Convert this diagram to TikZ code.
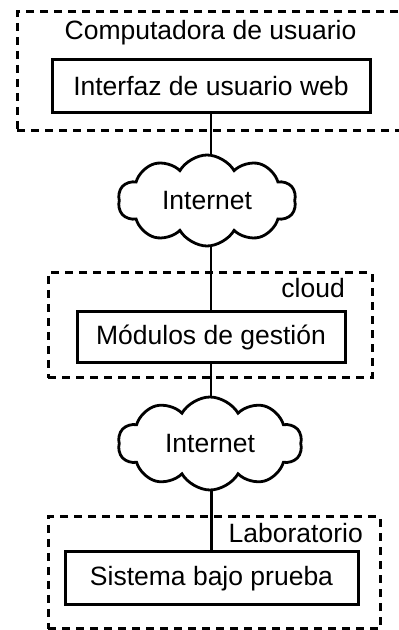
\documentclass[tikz,border=0pt]{standalone}
\usepackage{fontspec}
\setmainfont{Liberation Sans}
\usetikzlibrary{shapes.symbols,backgrounds}

\begin{document}
\begin{tikzpicture}[
  x=1pt, y=1pt,
  font=\fontsize{26.5}{30}\selectfont,
  frame/.style={draw, line width=3pt, dash pattern=on 8pt off 6pt, inner sep=0pt},
  block/.style={draw, line width=3pt, fill=white, inner sep=0pt},
  net/.style={cloud, cloud puffs=10, cloud puff arc=120, cloud ignores aspect, draw, line width=2.8pt, fill=white, inner sep=0pt},
  tag/.style={inner sep=0pt},
  link/.style={line width=2.6pt}
]
\useasboundingbox (0,0) rectangle (399,630);

% dashed frames
\node[frame, minimum width=383pt, minimum height=119pt] (userpc) at (208.5,558.5) {};
\node[frame, minimum width=324pt, minimum height=105pt] (cloudfr) at (210,304.5) {};
\node[frame, minimum width=332pt, minimum height=112pt] (labfr) at (214,57) {};

\node[tag, anchor=base] (pclabel) at (210.5,590) {Computadora de usuario};
\node[tag, anchor=base east] (cloudlabel) at (345,332) {cloud};
\node[tag, anchor=base east] (lablabel) at (363,87) {Laboratorio};

% blocks and networks
\node[block, minimum width=318pt, minimum height=53pt] (ui) at (211,543.5) {Interfaz de usuario web};
\node[net, minimum width=178pt, minimum height=91pt] (net1) at (207,429.5) {Internet};
\node[block, minimum width=268pt, minimum height=51pt] (mod) at (211,292.5) {Módulos de gestión};
\node[net, minimum width=184pt, minimum height=93pt] (net2) at (210,186.5) {Internet};
\node[block, minimum width=293pt, minimum height=53pt] (sut) at (211.5,51.5) {Sistema bajo prueba};

\begin{scope}[on background layer]
\draw[link] (ui.south) -- (ui.south |- net1.center);
\draw[link] (mod.north |- net1.center) -- (mod.north);
\draw[link] (mod.south) -- (mod.south |- net2.center);
\draw[link] (sut.north |- net2.center) -- (sut.north);
\end{scope}
\end{tikzpicture}
\end{document}
